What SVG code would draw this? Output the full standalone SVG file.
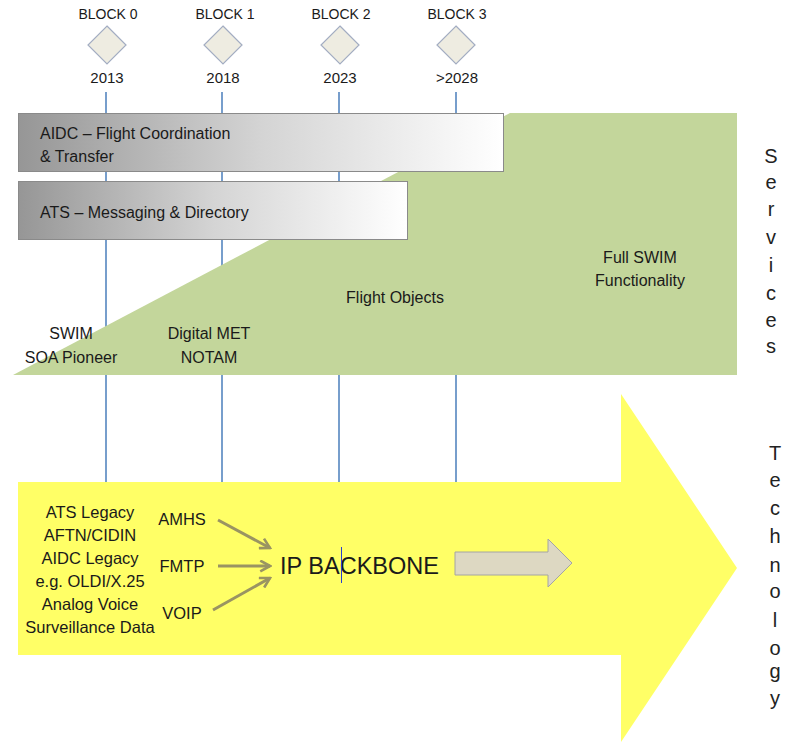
<svg xmlns="http://www.w3.org/2000/svg" width="789" height="743" viewBox="0 0 789 743">
  <defs>
    <linearGradient id="barFill" x1="0" y1="0" x2="1" y2="0">
      <stop offset="0" stop-color="#969696"/>
      <stop offset="0.5" stop-color="#d4d4d4"/>
      <stop offset="1" stop-color="#ffffff"/>
    </linearGradient>
    <marker id="chev" viewBox="0 0 12 12" refX="10.5" refY="6" markerWidth="13" markerHeight="13" markerUnits="userSpaceOnUse" orient="auto">
      <path d="M1.5,1 L10.5,6 L1.5,11" fill="none" stroke="#9a9462" stroke-width="2.4" stroke-linejoin="miter"/>
    </marker>
  </defs>
  <style>
    text { font-family: "Liberation Sans", Arial, sans-serif; fill: #1a1a1a; }
    .blk { font-size: 14px; text-anchor: middle; }
    .yr { font-size: 15px; text-anchor: middle; }
    .bar { stroke: #8a8a8a; stroke-width: 1; fill: url(#barFill); }
    .lbl { font-size: 16px; }
    .mid { text-anchor: middle; }
    .side { font-size: 20px; text-anchor: middle; fill: #222; }
    .tech { font-size: 16.5px; text-anchor: middle; }
    .mile { fill: #eeece1; stroke: #a3adc2; stroke-width: 1.2; }
    .grid { stroke: #4a7ebb; stroke-width: 1.5; }
    .feed { stroke: #9a9462; stroke-width: 3; fill: none; marker-end: url(#chev); }
  </style>

  <rect width="789" height="743" fill="#ffffff"/>

  <!-- timeline guides, drawn first so the bands sit on top -->
  <g id="timeline">
    <line class="grid" x1="106" y1="92" x2="106" y2="483"/>
    <line class="grid" x1="222" y1="92" x2="222" y2="483"/>
    <line class="grid" x1="339" y1="92" x2="339" y2="483"/>
    <line class="grid" x1="456" y1="92" x2="456" y2="483"/>
  </g>

  <!-- milestones -->
  <g id="block0">
    <text class="blk" x="108" y="19">BLOCK 0</text>
    <polygon class="mile" points="107,26 126,45 107,64 88,45"/>
    <text class="yr" x="107" y="83">2013</text>
  </g>
  <g id="block1">
    <text class="blk" x="225" y="19">BLOCK 1</text>
    <polygon class="mile" points="223,26 242,45 223,64 204,45"/>
    <text class="yr" x="223" y="83">2018</text>
  </g>
  <g id="block2">
    <text class="blk" x="341" y="19">BLOCK 2</text>
    <polygon class="mile" points="340,26 359,45 340,64 321,45"/>
    <text class="yr" x="340" y="83">2023</text>
  </g>
  <g id="block3">
    <text class="blk" x="457" y="19">BLOCK 3</text>
    <polygon class="mile" points="456,26 475,45 456,64 437,45"/>
    <text class="yr" x="457" y="83">&gt;2028</text>
  </g>

  <!-- services wedge -->
  <g id="services">
    <polygon points="13,375 510,113 737,113 737,375" fill="#c3d69b"/>
    <text class="lbl mid" x="71" y="339">SWIM</text>
    <text class="lbl mid" x="71" y="363">SOA Pioneer</text>
    <text class="lbl mid" x="209" y="339">Digital MET</text>
    <text class="lbl mid" x="209" y="363">NOTAM</text>
    <text class="lbl mid" x="395" y="303">Flight Objects</text>
    <text class="lbl mid" x="640" y="263">Full SWIM</text>
    <text class="lbl mid" x="640" y="286">Functionality</text>
  </g>

  <g id="aidc">
    <rect class="bar" x="18.5" y="113.5" width="485" height="58"/>
    <text class="lbl" x="40" y="139">AIDC – Flight Coordination</text>
    <text class="lbl" x="40" y="162">&amp; Transfer</text>
  </g>
  <g id="ats">
    <rect class="bar" x="18.5" y="181.5" width="389" height="58"/>
    <text class="lbl" x="40" y="218">ATS – Messaging &amp; Directory</text>
  </g>

  <g id="services-label">
    <text class="side" x="771" y="163">S</text>
    <text class="side" x="771" y="189">e</text>
    <text class="side" x="771" y="216">r</text>
    <text class="side" x="771" y="244">v</text>
    <text class="side" x="771" y="272">i</text>
    <text class="side" x="771" y="300">c</text>
    <text class="side" x="771" y="327">e</text>
    <text class="side" x="771" y="353">s</text>
  </g>

  <!-- technology arrow -->
  <g id="technology">
    <polygon points="18,482 621,482 621,394 737,568 621,742 621,655 18,655" fill="#ffff66"/>
    <text class="tech" x="90" y="518">ATS Legacy</text>
    <text class="tech" x="90" y="541">AFTN/CIDIN</text>
    <text class="tech" x="90" y="564">AIDC Legacy</text>
    <text class="tech" x="90" y="587">e.g. OLDI/X.25</text>
    <text class="tech" x="90" y="610">Analog Voice</text>
    <text class="tech" x="90" y="633">Surveillance Data</text>
  </g>
  <g id="amhs"><text class="tech" x="182" y="525">AMHS</text></g>
  <g id="fmtp"><text class="tech" x="182" y="572">FMTP</text></g>
  <g id="voip"><text class="tech" x="182" y="619">VOIP</text></g>

  <g id="ip-backbone">
    <text x="280" y="574" font-size="23.5px">IP BACKBONE</text>
    <line x1="341.5" y1="547" x2="341.5" y2="583" stroke="#2a3fd0" stroke-width="1"/>
  </g>

  <g id="onward">
    <polygon points="455,552 548,552 548,539 572,563 548,587 548,575 455,575" fill="#ddd8c2" stroke="#a4a4a4" stroke-width="1"/>
  </g>

  <g id="technology-label">
    <text class="side" x="775" y="460">T</text>
    <text class="side" x="775" y="487">e</text>
    <text class="side" x="775" y="515">c</text>
    <text class="side" x="775" y="543">h</text>
    <text class="side" x="775" y="572">n</text>
    <text class="side" x="775" y="598">o</text>
    <text class="side" x="775" y="627">l</text>
    <text class="side" x="775" y="655">o</text>
    <text class="side" x="775" y="678">g</text>
    <text class="side" x="775" y="705">y</text>
  </g>

  <!-- feeds into the IP backbone -->
  <g id="connectors">
    <line class="feed" x1="218" y1="520" x2="270" y2="548"/>
    <line class="feed" x1="218" y1="566" x2="270" y2="566"/>
    <line class="feed" x1="213" y1="610" x2="270" y2="578"/>
  </g>
</svg>
